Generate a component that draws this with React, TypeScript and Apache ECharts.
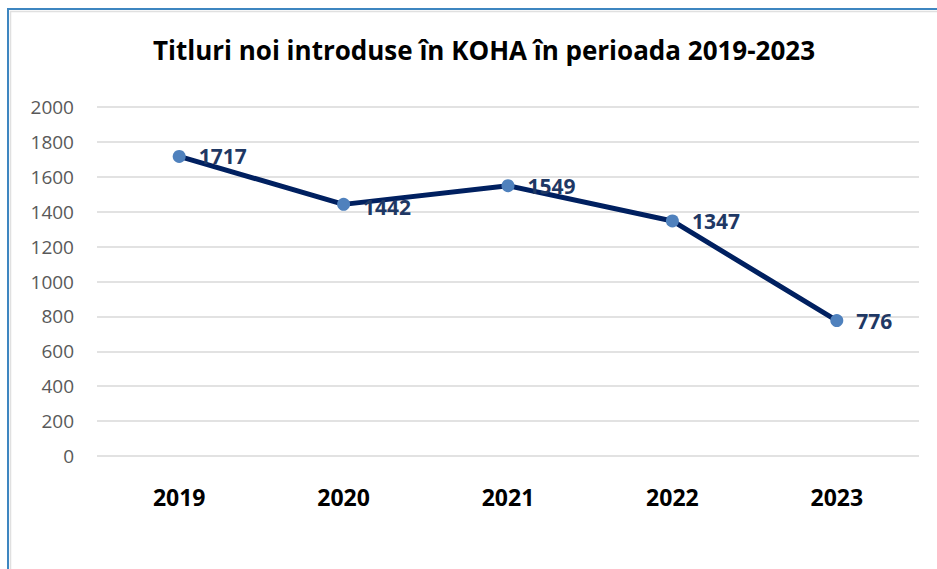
import React, { useEffect, useRef } from "react";
import * as echarts from "echarts";

const categories = ["2019", "2020", "2021", "2022", "2023"];
const values = [1717, 1442, 1549, 1347, 776];
const titleText = "Titluri noi introduse în KOHA în perioada 2019-2023";

const FONT = "'Open Sans', 'Noto Sans', sans-serif";

export default function App() {
  const ref = useRef<HTMLDivElement>(null);
  useEffect(() => {
    if (!ref.current) return;
    const chart = echarts.init(ref.current, undefined, { renderer: "svg" });
    const data = values.map((v, i) => {
      const item: any = { value: v };
      if (i === 1) item.label = { offset: [0, 3] };
      return item;
    });
    chart.setOption({
      animation: false,
      backgroundColor: "#ffffff",
      title: {
        text: titleText,
        left: 479,
        top: 32,
        textAlign: "center",
        textStyle: { fontFamily: FONT, fontWeight: "bold", fontSize: 26, color: "#000000" },
      },
      graphic: [
        {
          type: "rect",
          shape: { x: 8, y: 9, width: 960, height: 600 },
          style: { fill: "none", stroke: "#3e86c0", lineWidth: 2 },
          silent: true,
        },
        {
          type: "rect",
          shape: { x: 10.5, y: 11.5, width: 960, height: 600 },
          style: { fill: "none", stroke: "#e0e0e0", lineWidth: 1.5 },
          silent: true,
        },
      ],
      grid: { left: 97, right: 18, top: 107, bottom: 113, containLabel: false },
      xAxis: {
        type: "category",
        data: categories,
        boundaryGap: true,
        axisLine: { show: false },
        axisTick: { show: false },
        axisLabel: {
          margin: 29,
          fontFamily: FONT,
          fontWeight: "bold",
          fontSize: 23,
          color: "#000000",
        },
      },
      yAxis: {
        type: "value",
        min: 0,
        max: 2000,
        interval: 200,
        axisLine: { show: false },
        axisTick: { show: false },
        axisLabel: {
          margin: 23,
          fontFamily: FONT,
          fontSize: 19,
          color: "#595959",
          formatter: (v: number) => String(v),
        },
        splitLine: { lineStyle: { color: "#d9d9d9", width: 1.5 } },
      },
      series: [
        {
          type: "line",
          data,
          symbol: "circle",
          symbolSize: 13,
          itemStyle: { color: "#4f81bd" },
          lineStyle: { color: "#002060", width: 5 },
          label: {
            show: true,
            position: "right",
            distance: 13,
            fontFamily: FONT,
            fontWeight: "bold",
            fontSize: 21,
            color: "#1f3864",
          },
          z: 3,
        },
      ],
    });
    return () => chart.dispose();
  }, []);
  return (
    <div
      ref={ref}
      style={{ position: "absolute", left: 0, top: 0, width: 937, height: 569 }}
    />
  );
}
